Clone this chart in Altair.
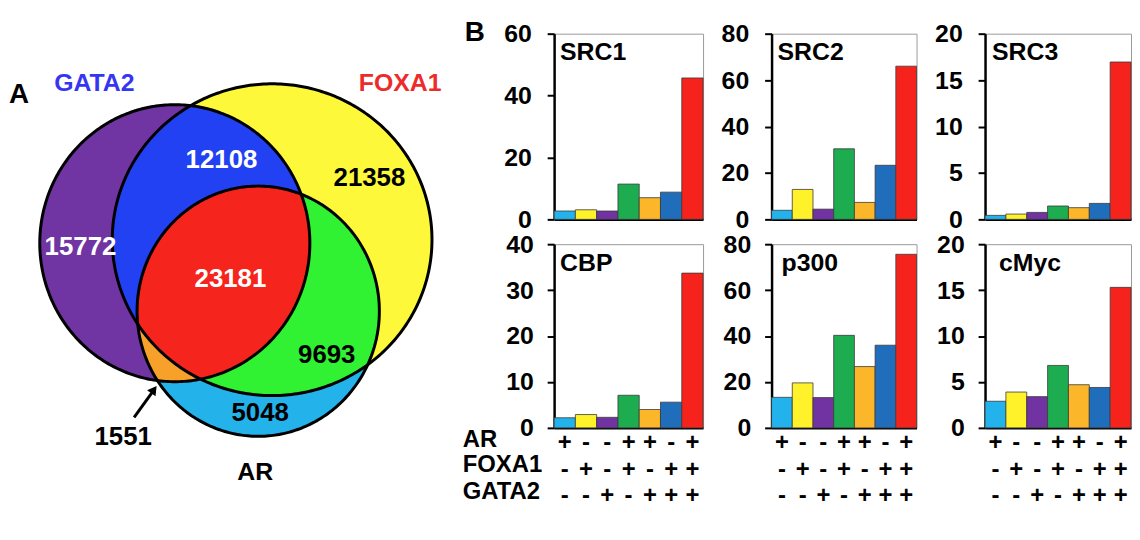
import altair as alt
import pandas as pd
import numpy as np

FONT = "Liberation Sans"

# ---------------- data ----------------
combos = ["AR", "FOXA1", "GATA2", "AR+FOXA1", "AR+GATA2", "FOXA1+GATA2", "AR+FOXA1+GATA2"]
ar_sign = ["+", "-", "-", "+", "+", "-", "+"]
foxa1_sign = ["-", "+", "-", "+", "-", "+", "+"]
gata2_sign = ["-", "-", "+", "-", "+", "+", "+"]
row_names = ["AR", "FOXA1", "GATA2"]
bar_colors = ["#22B3EC", "#FFF22A", "#7132A2", "#1EAC50", "#FBB62A", "#1F6DBB", "#F5231C"]

src1 = [2.7, 3.1, 2.7, 11.4, 7.0, 8.8, 45.7]
src2 = [3.9, 12.9, 4.4, 30.4, 7.3, 23.3, 66.0]
src3 = [0.43, 0.57, 0.75, 1.44, 1.26, 1.72, 16.95]
cbp = [2.2, 2.9, 2.3, 7.1, 4.0, 5.6, 33.7]
p300 = [13.3, 19.6, 13.2, 40.3, 26.7, 36.0, 75.6]
cmyc = [2.9, 3.9, 3.4, 6.8, 4.7, 4.4, 15.3]

venn_sets = ["GATA2", "FOXA1", "AR"]
venn_regions = ["GATA2 only", "FOXA1 only", "AR only", "GATA2+FOXA1", "FOXA1+AR", "GATA2+AR", "all three"]
venn_counts = [15772, 21358, 5048, 12108, 9693, 1551, 23181]

# ---------------- layout / style ----------------
# ellipse geometry (page coordinates): cx, cy, rx, ry
ELL = {"GATA2": (176, 242.5, 136, 139.5), "FOXA1": (274, 239, 161, 157), "AR": (260, 311, 122, 126)}
region_sets = {
    "GATA2 only": ["GATA2"], "FOXA1 only": ["FOXA1"], "AR only": ["AR"],
    "GATA2+FOXA1": ["GATA2", "FOXA1"], "FOXA1+AR": ["FOXA1", "AR"],
    "GATA2+AR": ["GATA2", "AR"], "all three": ["GATA2", "FOXA1", "AR"],
}
region_fill = {
    "GATA2 only": "#7034A3", "FOXA1 only": "#FDF93A", "AR only": "#24B2EA",
    "GATA2+FOXA1": "#2141F2", "FOXA1+AR": "#30F232", "GATA2+AR": "#F7A12A", "all three": "#F5241C",
}
label_pos = {
    "GATA2 only": (81, 246, "white"), "FOXA1 only": (372, 177, "black"), "AR only": (262, 414, "black"),
    "GATA2+FOXA1": (223, 159, "white"), "FOXA1+AR": (329, 355, "black"), "GATA2+AR": (124, 438, "black"),
    "all three": (232, 279, "white"),
}
# venn view spans page x 8..458 and page y 31.5..532 (its top is aligned with the first bar row)
VX0, VX1, VY0, VY1 = 8, 458, 31.5, 532

xs_grid = np.arange(VX0, VX1, 0.4)


def region_span(names):
    top = np.full_like(xs_grid, -np.inf)
    bot = np.full_like(xs_grid, np.inf)
    for n in names:
        cx, cy, rx, ry = ELL[n]
        t = 1 - ((xs_grid - cx) / rx) ** 2
        h = ry * np.sqrt(np.clip(t, 0, None))
        h[t < 0] = np.nan
        top = np.maximum(top, cy - h)
        bot = np.minimum(bot, cy + h)
    ok = (~np.isnan(top)) & (~np.isnan(bot)) & (top <= bot)
    return pd.DataFrame({"x": xs_grid[ok], "y1": top[ok], "y2": bot[ok]})


xsc = alt.Scale(domain=[VX0, VX1], nice=False, zero=False)
ysc = alt.Scale(domain=[VY0, VY1], nice=False, zero=False, reverse=True)
XE = alt.X("x:Q", scale=xsc, axis=None)
YE = alt.Y("y:Q", scale=ysc, axis=None)

venn_layers = []
for reg in venn_regions:
    d = region_span(region_sets[reg])
    venn_layers.append(
        alt.Chart(d).mark_area(orient="vertical", color=region_fill[reg], opacity=1).encode(
            x=XE, y=alt.Y("y1:Q", scale=ysc, axis=None), y2="y2:Q",
        )
    )

th = np.linspace(0, 2 * np.pi, 361)
outl = []
for n in venn_sets:
    cx, cy, rx, ry = ELL[n]
    outl.append(pd.DataFrame({"set": n, "i": np.arange(len(th)), "x": cx + rx * np.cos(th), "y": cy + ry * np.sin(th)}))
outl = pd.concat(outl)
venn_layers.append(
    alt.Chart(outl).mark_line(color="black", strokeWidth=3).encode(x=XE, y=YE, order="i:Q", detail="set:N")
)

cnt = pd.DataFrame({
    "text": [str(c) for c in venn_counts],
    "x": [label_pos[r][0] for r in venn_regions],
    "y": [label_pos[r][1] for r in venn_regions],
    "color": [label_pos[r][2] for r in venn_regions],
})
venn_layers.append(
    alt.Chart(cnt).mark_text(font=FONT, fontWeight="bold", fontSize=26, baseline="middle").encode(
        x=XE, y=YE, text="text:N", color=alt.Color("color:N", scale=None),
    )
)
names = pd.DataFrame({"text": venn_sets, "x": [95, 403, 257], "y": [81, 81, 473],
                      "color": ["#3535F2", "#EE2B2B", "black"]})
venn_layers.append(
    alt.Chart(names).mark_text(font=FONT, fontWeight="bold", fontSize=25, baseline="middle").encode(
        x=XE, y=YE, text="text:N", color=alt.Color("color:N", scale=None),
    )
)
letterA = pd.DataFrame({"text": ["A"], "x": [9], "y": [93]})
venn_layers.append(
    alt.Chart(letterA).mark_text(font=FONT, fontWeight="bold", fontSize=28, baseline="middle", align="left", color="black").encode(
        x=XE, y=YE, text="text:N",
    )
)
# arrow pointing at the small 1551 region
arrow = pd.DataFrame({"x": [135, 153], "y": [418, 393], "i": [0, 1]})
venn_layers.append(
    alt.Chart(arrow).mark_line(color="black", strokeWidth=3).encode(x=XE, y=YE, order="i:Q")
)
head = pd.DataFrame({"x": [155], "y": [390]})
venn_layers.append(
    alt.Chart(head).mark_point(shape="triangle-up", filled=True, color="black", size=110, angle=36, opacity=1).encode(
        x=XE, y=YE,
    )
)

venn = alt.layer(*venn_layers).properties(
    width=VX1 - VX0, height=VY1 - VY0, view=alt.ViewBackground(strokeOpacity=0)
)

keys = ["|".join(t) for t in zip(ar_sign, foxa1_sign, gata2_sign)]


def panel(name, values, ymax, step, width, height, show_labels, title_dx, lab_pad, extras=()):
    df = pd.DataFrame({"key": keys, "value": values, "combo": combos})
    xax = alt.Axis(
        title=None, labels=show_labels, ticks=False, domainColor="black", domainWidth=2.5,
        labelExpr="split(datum.label, '|')", labelFont=FONT, labelFontSize=24, labelFontWeight="bold",
        labelLineHeight=26.6, labelPadding=3, labelAngle=0, labelColor="black", labelOverlap=False,
    )
    yax = alt.Axis(
        title=None, values=list(range(0, ymax + 1, step)), grid=False, domainColor="black", domainWidth=2.5,
        tickColor="black", tickWidth=2, tickSize=7, labelFont=FONT, labelFontSize=25, labelFontWeight="bold",
        labelPadding=lab_pad, labelColor="black",
    )
    bars = alt.Chart(df).mark_bar(stroke="#3a3a3a", strokeWidth=0.8).encode(
        x=alt.X("key:N", sort=keys, scale=alt.Scale(paddingInner=0, paddingOuter=0), axis=xax),
        y=alt.Y("value:Q", scale=alt.Scale(domain=[0, ymax], nice=False), axis=yax),
        color=alt.Color("combo:N", scale=alt.Scale(domain=combos, range=bar_colors), legend=None),
    )
    title = alt.Chart(pd.DataFrame({"t": [name]})).mark_text(
        align="left", baseline="alphabetic", font=FONT, fontSize=25, fontWeight="bold", color="black"
    ).encode(text="t:N", x=alt.value(title_dx), y=alt.value(27))
    return alt.layer(bars, title, *extras).properties(width=width, height=height)


# "B" label and invisible layout anchor (top-left corner of the bar block)
b_label = alt.Chart(pd.DataFrame({"t": ["B"]})).mark_text(
    align="left", baseline="middle", font=FONT, fontSize=28, fontWeight="bold", color="black"
).encode(text="t:N", x=alt.value(-90), y=alt.value(-1))
anchor = alt.Chart(pd.DataFrame({"t": ["x"]})).mark_text(
    align="left", baseline="top", fontSize=2, opacity=0
).encode(text="t:N", x=alt.value(-92.5), y=alt.value(-23.5))

# row names of the +/- table, left of the CBP panel
row_y = [197.5, 222.5, 249.5]
row_layers = [
    alt.Chart(pd.DataFrame({"t": [nm]})).mark_text(
        align="left", baseline="middle", font=FONT, fontSize=24, fontWeight="bold", color="black"
    ).encode(text="t:N", x=alt.value(-92), y=alt.value(yy))
    for nm, yy in zip(row_names, row_y)
]

p_src1 = panel("SRC1", src1, 60, 20, 150, 187, False, 6, 16, extras=(b_label, anchor))
p_src2 = panel("SRC2", src2, 80, 20, 146, 187, False, 6, 16)
p_src3 = panel("SRC3", src3, 20, 5, 147, 187, False, 7, 16)
p_cbp = panel("CBP", cbp, 40, 10, 150, 185, True, 6, 14, extras=tuple(row_layers))
p_p300 = panel("p300", p300, 80, 20, 146, 185, True, 10, 14)
p_cmyc = panel("cMyc", cmyc, 20, 5, 147, 185, True, 14, 14)

bars_block = alt.concat(
    p_src1, p_src2, p_src3, p_cbp, p_p300, p_cmyc, columns=3,
    spacing={"row": 25, "column": 69}, bounds="flush",
).resolve_scale(y="independent", x="independent")

chart = alt.hconcat(venn, bars_block, spacing=7).properties(padding=0).configure_view(
    stroke="#9a9a9a", strokeWidth=1
)

chart.save("out.html", embed_options={"renderer": "svg", "actions": False})
